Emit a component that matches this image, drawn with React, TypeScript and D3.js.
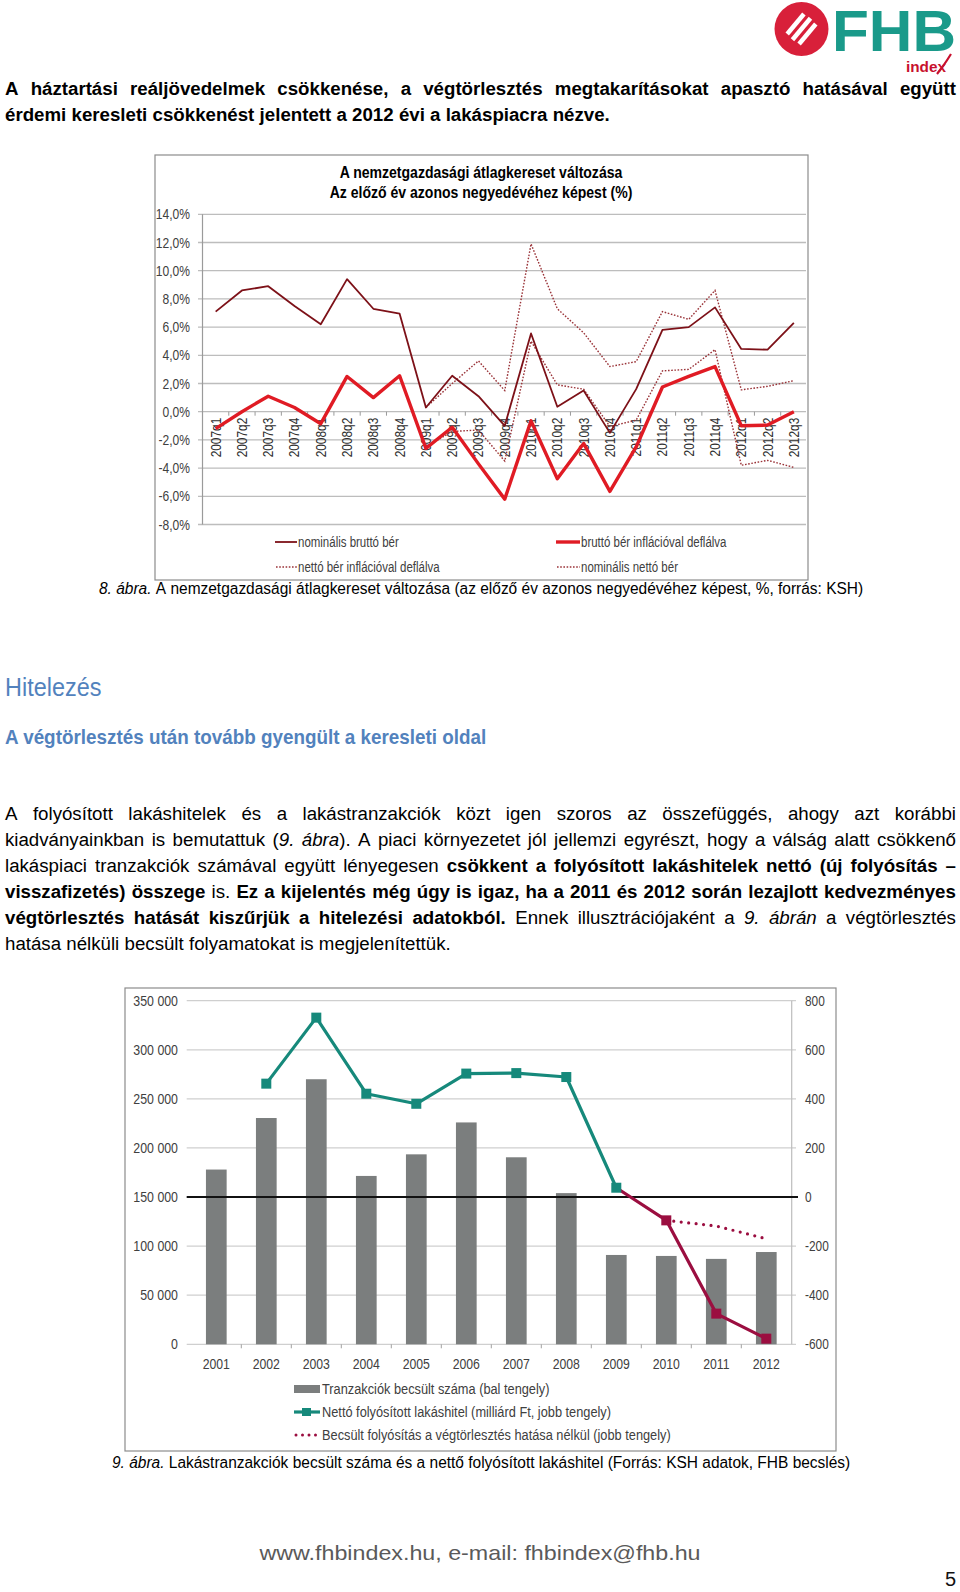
import React from 'react';
import * as d3 from 'd3';

// ---------- Chart 1 data (quarterly % change) ----------
const quarters = ['2007q1','2007q2','2007q3','2007q4','2008q1','2008q2','2008q3','2008q4','2009q1','2009q2','2009q3','2009q4','2010q1','2010q2','2010q3','2010q4','2011q1','2011q2','2011q3','2011q4','2012q1','2012q2','2012q3'];
const nomBrutto: (number|null)[] = [7.1,8.6,8.9,7.5,6.2,9.4,7.3,6.95,0.3,2.55,1.1,-1.0,5.55,0.35,1.5,-1.5,1.6,5.8,6.0,7.4,4.45,4.4,6.3];
const realBrutto: (number|null)[] = [-1.2,0.0,1.1,0.3,-0.85,2.5,1.0,2.55,-2.6,-1.1,-3.7,-6.2,-0.65,-4.75,-2.25,-5.65,-2.5,1.75,2.5,3.2,-1.0,-0.95,0.0];
const realNetto: (number|null)[] = [null,null,null,null,null,null,null,null,-2.5,-1.4,-1.3,-3.5,5.0,1.9,1.6,-1.05,-0.6,2.9,3.0,4.4,-3.8,-3.45,-3.95];
const nomNetto: (number|null)[] = [null,null,null,null,null,null,null,null,0.3,2.0,3.6,1.5,11.9,7.3,5.6,3.2,3.55,7.1,6.55,8.6,1.55,1.8,2.2];
const pctTicks = [-8,-6,-4,-2,0,2,4,6,8,10,12,14];

// ---------- Chart 2 data (yearly) ----------
const years = ['2001','2002','2003','2004','2005','2006','2007','2008','2009','2010','2011','2012'];
const transactions = [178000,230500,270000,171500,193500,226000,190500,154000,91000,90000,87000,94000];
const netLoan: (number|null)[] = [null,462,731,421,380,503,505,489,38,-95,-475,-577];
const estimated: (number|null)[] = [null,null,null,null,null,null,null,null,null,-95,-118,-170];
const leftTicks = [0,50000,100000,150000,200000,250000,300000,350000];
const rightTicks = [-600,-400,-200,0,200,400,600,800];
const splitIndex = 8; // from 2009 the series is drawn in crimson

// ---------- fonts ----------
function detectNarrow(): boolean {
  try {
    const ctx = document.createElement('canvas').getContext('2d')!;
    const s = 'abcdefghijklmnopqrstuvwxyz0123456789';
    ctx.font = '40px monospace';
    const a = ctx.measureText(s).width;
    ctx.font = '40px "Liberation Sans Narrow", monospace';
    const b = ctx.measureText(s).width;
    return Math.abs(a - b) > 0.5;
  } catch (e) { return false; }
}
const HAS_NARROW = typeof document !== 'undefined' && detectNarrow();
const FAM = HAS_NARROW ? '"Liberation Sans Narrow", "Arial Narrow", sans-serif' : '"Liberation Sans", Arial, sans-serif';
const SX = HAS_NARROW ? 1 : 0.82;
const WIDE = '"Liberation Sans", Arial, sans-serif';

let _ctx: CanvasRenderingContext2D | null = null;
function measure(t: string, size: number, bold?: boolean, italic?: boolean, k = 1) {
  if (!_ctx) _ctx = document.createElement('canvas').getContext('2d');
  _ctx!.font = `${italic ? 'italic ' : ''}${bold ? 'bold ' : ''}${size}px ${FAM}`;
  return _ctx!.measureText(t).width * SX * k;
}

type TP = { x: number; y: number; size: number; bold?: boolean; italic?: boolean; fill?: string; anchor?: string; rotate?: number; children: any; k?: number; sx?: number; family?: string; len?: number };
function T({ x, y, size, bold, italic, fill = '#000', anchor = 'start', rotate, children, k = 1, sx, family = FAM, len }: TP) {
  const s = sx != null ? sx : SX * k;
  return (
    <text transform={`translate(${x},${y})${rotate ? ` rotate(${rotate})` : ''} scale(${s},1)`}
      fontFamily={family} fontSize={size} fontWeight={bold ? 'bold' : 'normal'} fontStyle={italic ? 'italic' : 'normal'}
      fill={fill} textAnchor={anchor as any} textLength={len} lengthAdjust={len ? 'spacingAndGlyphs' : undefined}>{children}</text>
  );
}

type Seg = { t: string; b?: boolean; i?: boolean };
function tokenize(segs: Seg[]) {
  const words: Seg[][] = [];
  let cur: Seg[] = [];
  segs.forEach(s => {
    const parts = s.t.split(' ');
    parts.forEach((p, k) => {
      if (k > 0) { if (cur.length) words.push(cur); cur = []; }
      if (p) cur.push({ t: p, b: s.b, i: s.i });
    });
  });
  if (cur.length) words.push(cur);
  return words;
}
function TextLine({ segs, x, y, width, size, fill = '#000', justify, k = 1 }: { segs: Seg[]; x: number; y: number; width: number; size: number; fill?: string; justify?: boolean; k?: number }) {
  const words = tokenize(segs);
  const widths = words.map(w => d3.sum(w, p => measure(p.t, size, p.b, p.i, k)));
  const total = d3.sum(widths);
  const gap = justify && words.length > 1 ? (width - total) / (words.length - 1) : measure(' ', size, false, false, k);
  const out: any[] = [];
  let cx = x;
  words.forEach((w, wi) => {
    let px = cx;
    w.forEach((p, pi) => {
      out.push(<T key={`${wi}-${pi}`} x={px} y={y} size={size} bold={p.b} italic={p.i} fill={fill} k={k}>{p.t}</T>);
      px += measure(p.t, size, p.b, p.i, k);
    });
    cx += widths[wi] + gap;
  });
  return <g>{out}</g>;
}

// ---------- page text ----------
const heading: Seg[][] = [
  [{ t: 'A háztartási reáljövedelmek csökkenése, a végtörlesztés megtakarításokat apasztó hatásával együtt', b: true }],
  [{ t: 'érdemi keresleti csökkenést jelentett a 2012 évi a lakáspiacra nézve.', b: true }],
];
const paragraph: Seg[][] = [
  [{ t: 'A folyósított lakáshitelek és a lakástranzakciók közt igen szoros az összefüggés, ahogy azt korábbi' }],
  [{ t: 'kiadványainkban is bemutattuk (' }, { t: '9. ábra', i: true }, { t: '). A piaci környezetet jól jellemzi egyrészt, hogy a válság alatt csökkenő' }],
  [{ t: 'lakáspiaci tranzakciók számával együtt lényegesen ' }, { t: 'csökkent a folyósított lakáshitelek nettó (új folyósítás –', b: true }],
  [{ t: 'visszafizetés) összege', b: true }, { t: ' is. ' }, { t: 'Ez a kijelentés még úgy is igaz, ha a 2011 és 2012 során lezajlott kedvezményes', b: true }],
  [{ t: 'végtörlesztés hatását kiszűrjük a hitelezési adatokból.', b: true }, { t: ' Ennek illusztrációjaként a ' }, { t: '9. ábrán', i: true }, { t: ' a végtörlesztés' }],
  [{ t: 'hatása nélküli becsült folyamatokat is megjelenítettük.' }],
];
const paraY = [820, 846, 872, 898, 924, 950];

const C_THIN = '#7d1118';
const C_THICK = '#e01b24';
const C_DOT = '#9a3338';
const C_TEAL = '#16897b';
const C_CRIM = '#9b0e40';
const C_BAR = '#7b7e7e';
const C_BLUE = '#5282bd';
const C_AX = '#404040';

function Chart1() {
  const x = d3.scaleBand().domain(quarters).range([202.5, 807]);
  const y = d3.scaleLinear().domain([-8, 14]).range([524.5, 214.3]);
  const cx = (i: number) => (x(quarters[i]) as number) + x.bandwidth() / 2;
  const line = d3.line<number | null>().defined(d => d != null).x((d, i) => cx(i)).y(d => y(d as number));
  const fmt = (v: number) => v.toFixed(1).replace('.', ',') + '%';
  return (
    <g>
      <rect x={155} y={155} width={653} height={425} fill="#fff" stroke="#8c8c8c" strokeWidth={1.2} />
      <T x={481} y={178} size={16} k={1.07} bold anchor="middle">A nemzetgazdasági átlagkereset változása</T>
      <T x={481} y={198} size={16} k={1.07} bold anchor="middle">Az előző év azonos negyedévéhez képest (%)</T>
      {pctTicks.map(v => (
        <g key={v}>
          <line x1={198} x2={806} y1={y(v)} y2={y(v)} stroke="#bdbdbd" strokeWidth={1.3} />
          <T x={190} y={y(v) + 5} size={14} k={1.05} fill={C_AX} anchor="end">{fmt(v)}</T>
        </g>
      ))}
      <line x1={202.5} x2={202.5} y1={y(14)} y2={y(-8)} stroke="#9a9a9a" strokeWidth={1.2} />
      {quarters.map((q, i) => (
        <g key={q}>
          {i > 0 && <line x1={x(q)} x2={x(q)} y1={y(0)} y2={y(0) + 4} stroke="#9a9a9a" />}
          <T x={cx(i) + 5} y={y(0) + 6} size={14.5} fill="#303030" anchor="end" rotate={-90}>{q}</T>
        </g>
      ))}
      <path d={line(nomNetto) || ''} fill="none" stroke={C_DOT} strokeWidth={1.4} strokeDasharray="1.6 1.6" />
      <path d={line(realNetto) || ''} fill="none" stroke={C_DOT} strokeWidth={1.4} strokeDasharray="1.6 1.6" />
      <path d={line(nomBrutto) || ''} fill="none" stroke={C_THIN} strokeWidth={1.8} strokeLinejoin="round" />
      <path d={line(realBrutto) || ''} fill="none" stroke={C_THICK} strokeWidth={3.4} strokeLinejoin="round" />
      {/* legend */}
      <line x1={275} x2={297} y1={542} y2={542} stroke={C_THIN} strokeWidth={1.8} />
      <T x={298} y={547} size={14} fill={C_AX}>nominális bruttó bér</T>
      <line x1={556} x2={580} y1={542} y2={542} stroke={C_THICK} strokeWidth={3.4} />
      <T x={581} y={547} size={14} fill={C_AX}>bruttó bér inflációval deflálva</T>
      <line x1={276} x2={297} y1={567} y2={567} stroke={C_DOT} strokeWidth={1.4} strokeDasharray="1.6 1.6" />
      <T x={298} y={572} size={14} fill={C_AX}>nettó bér inflációval deflálva</T>
      <line x1={557} x2={580} y1={567} y2={567} stroke={C_DOT} strokeWidth={1.4} strokeDasharray="1.6 1.6" />
      <T x={581} y={572} size={14} fill={C_AX}>nominális nettó bér</T>
    </g>
  );
}

function Chart2() {
  const x = d3.scaleBand().domain(years).range([191.3, 791.3]);
  const yl = d3.scaleLinear().domain([0, 350000]).range([1344.3, 1000.7]);
  const yr = d3.scaleLinear().domain([-600, 800]).range([1344.3, 1000.7]);
  const cx = (i: number) => (x(years[i]) as number) + x.bandwidth() / 2;
  const line = d3.line<number | null>().defined(d => d != null).x((d, i) => cx(i)).y(d => yr(d as number));
  const teal = netLoan.map((v, i) => (i <= splitIndex ? v : null));
  const crim = netLoan.map((v, i) => (i >= splitIndex ? v : null));
  const fmtL = (v: number) => d3.format(',')(v).replace(/,/g, ' ');
  const bw = 20.7;
  const ms = 10;
  return (
    <g>
      <rect x={125} y={988} width={711} height={463} fill="#fff" stroke="#8c8c8c" strokeWidth={1.2} />
      {leftTicks.map(v => (
        <g key={v}>
          <line x1={186.7} x2={796} y1={yl(v)} y2={yl(v)} stroke="#cfcfcf" strokeWidth={1.3} />
          <T x={178} y={yl(v) + 5} size={14.5} k={1.04} fill={C_AX} anchor="end">{fmtL(v)}</T>
        </g>
      ))}
      {rightTicks.map(v => (
        <T key={v} x={805} y={yr(v) + 5} size={14.5} fill={C_AX}>{String(v)}</T>
      ))}
      <line x1={791.7} x2={791.7} y1={yr(800)} y2={yr(-600)} stroke="#bdbdbd" strokeWidth={1.2} />
      {years.map((yv, i) => (
        <g key={yv}>
          {i > 0 && <line x1={x(yv)} x2={x(yv)} y1={yl(0)} y2={yl(0) + 4} stroke="#a0a0a0" />}
          <rect x={cx(i) - bw / 2} y={yl(transactions[i])} width={bw} height={yl(0) - yl(transactions[i])} fill={C_BAR} />
          <T x={cx(i)} y={1369} size={14.5} k={1.03} fill={C_AX} anchor="middle">{yv}</T>
        </g>
      ))}
      <line x1={186.7} x2={798} y1={yr(0)} y2={yr(0)} stroke="#111" strokeWidth={2} />
      <path d={line(estimated) || ''} fill="none" stroke={C_CRIM} strokeWidth={3.2} strokeDasharray="0 7.5" strokeLinecap="round" />
      <path d={line(teal) || ''} fill="none" stroke={C_TEAL} strokeWidth={3.2} strokeLinejoin="round" />
      <path d={line(crim) || ''} fill="none" stroke={C_CRIM} strokeWidth={3.2} strokeLinejoin="round" />
      {netLoan.map((v, i) => v == null ? null : (
        <rect key={i} x={cx(i) - ms / 2} y={yr(v) - ms / 2} width={ms} height={ms} fill={i <= splitIndex ? C_TEAL : C_CRIM} />
      ))}
      {/* legend */}
      <rect x={294} y={1385} width={26} height={8} fill={C_BAR} />
      <T x={322} y={1394} size={15} k={1.04} fill={C_AX}>Tranzakciók becsült száma (bal tengely)</T>
      <line x1={294} x2={320} y1={1412} y2={1412} stroke={C_TEAL} strokeWidth={3.2} />
      <rect x={302} y={1408} width={9} height={8} fill={C_TEAL} />
      <T x={322} y={1417} size={15} k={1.04} fill={C_AX}>Nettó folyósított lakáshitel (milliárd Ft, jobb tengely)</T>
      <line x1={296} x2={320} y1={1435} y2={1435} stroke={C_CRIM} strokeWidth={3} strokeDasharray="0 6.5" strokeLinecap="round" />
      <T x={322} y={1440} size={15} k={1.04} fill={C_AX}>Becsült folyósítás a végtörlesztés hatása nélkül (jobb tengely)</T>
    </g>
  );
}

function Logo() {
  return (
    <g>
      <circle cx={801.5} cy={29} r={27} fill="#d8203a" />
      <g transform="translate(801.5,29) rotate(-50)" fill="#fff">
        <rect x={-13} y={-10} width={26} height={4.5} />
        <rect x={-14} y={-2.3} width={28} height={4.5} />
        <rect x={-13} y={5.5} width={26} height={4.5} />
      </g>
      <T x={832} y={51} size={57} bold fill="#1a9a8a" sx={1} family={WIDE} len={124}>FHB</T>
      <T x={906} y={72} size={15} bold fill="#c8102e" sx={1} family={WIDE} len={40}>index</T>
      <path d="M937,74 C942,68 946,62 951,54" fill="none" stroke="#c8102e" strokeWidth={2.2} />
    </g>
  );
}

export default function App() {
  return (
    <svg width={960} height={1592} viewBox="0 0 960 1592" style={{ position: 'absolute', left: 0, top: 0, background: '#fff' }}>
      <rect x={0} y={0} width={960} height={1592} fill="#fff" />
      <Logo />
      <TextLine segs={heading[0]} x={5} y={95} width={951} size={19} k={1.2} justify />
      <TextLine segs={heading[1]} x={5} y={121} width={951} size={19} k={1.2} />
      <Chart1 />
      <TextLine segs={[{ t: '8. ábra.', i: true }, { t: ' A nemzetgazdasági átlagkereset változása (az előző év azonos negyedévéhez képest, %, forrás: KSH)' }]} x={99} y={594} width={764} size={16} k={1.18} />
      <T x={5} y={696} size={26} k={1.1} fill={C_BLUE}>Hitelezés</T>
      <T x={5} y={744} size={19.5} k={1.18} bold fill={C_BLUE}>A végtörlesztés után tovább gyengült a keresleti oldal</T>
      {paragraph.map((segs, i) => (
        <TextLine key={i} segs={segs} x={5} y={paraY[i]} width={951} size={19} k={1.2} justify={i < paragraph.length - 1} />
      ))}
      <Chart2 />
      <TextLine segs={[{ t: '9. ábra.', i: true }, { t: ' Lakástranzakciók becsült száma és a nettő folyósított lakáshitel (Forrás: KSH adatok, FHB becslés)' }]} x={112} y={1468} width={738} size={16} k={1.18} />
      <T x={480} y={1560} size={21} fill="#5a5a5a" anchor="middle" sx={1} family={WIDE} len={441}>www.fhbindex.hu, e-mail: fhbindex@fhb.hu</T>
      <T x={956} y={1586} size={20} fill="#111" anchor="end" sx={1} family={WIDE}>5</T>
    </svg>
  );
}
